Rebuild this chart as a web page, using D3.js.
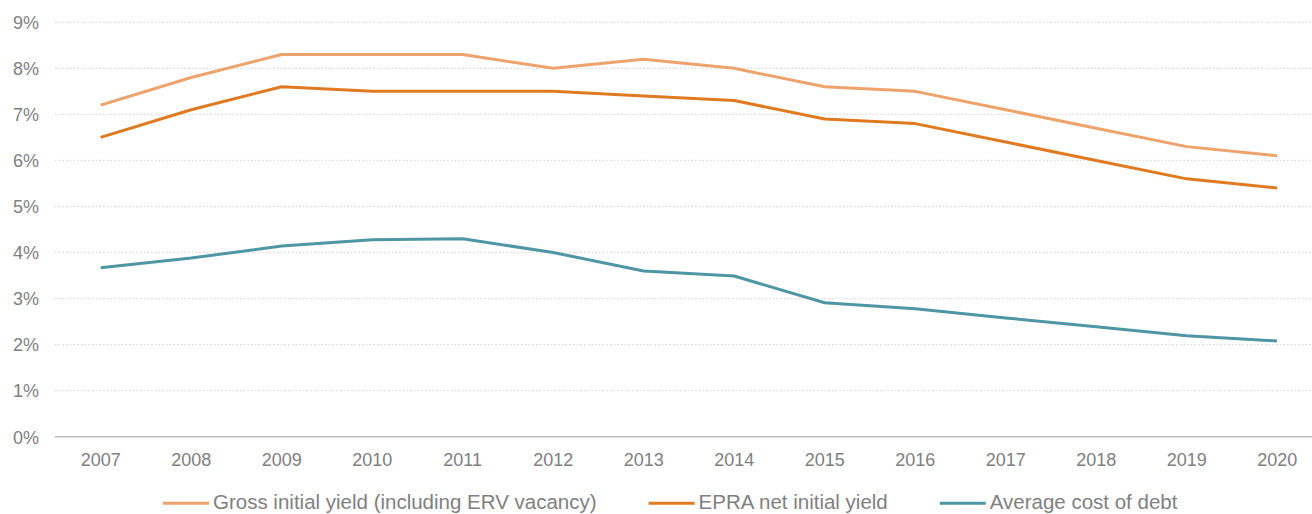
<!DOCTYPE html>
<html>
<head>
<meta charset="utf-8">
<script src="https://cdn.jsdelivr.net/npm/d3@7"></script>
<style>
  body { margin: 0; background: #fff; }
  svg { display: block; font-family: 'Liberation Sans', Arial, sans-serif; }
  .axis text { fill: #808080; font-size: 18px; }
</style>
</head>
<body>
<script>
// data
const years = ['2007', '2008', '2009', '2010', '2011', '2012', '2013', '2014', '2015', '2016', '2017', '2018', '2019', '2020']
const grossYield = [7.2, 7.8, 8.3, 8.3, 8.3, 8.0, 8.2, 8.0, 7.6, 7.5, 7.1, 6.7, 6.3, 6.1]
const epraYield = [6.5, 7.1, 7.6, 7.5, 7.5, 7.5, 7.4, 7.3, 6.9, 6.8, 6.4, 6.0, 5.6, 5.4]
const costOfDebt = [3.67, 3.88, 4.14, 4.28, 4.3, 4.0, 3.6, 3.49, 2.91, 2.78, 2.58, 2.39, 2.19, 2.08]
const yTicks = [0, 1, 2, 3, 4, 5, 6, 7, 8, 9]
const seriesNames = ['Gross initial yield (including ERV vacancy)', 'EPRA net initial yield', 'Average cost of debt']
const seriesColors = ['#EEA26C', '#E07A20', '#4E96A4']

const width = 1312
const height = 514
const svg = d3.select('body').append('svg').attr('width', width).attr('height', height)

// band of the 14 years runs past the right edge of the picture (it was cropped)
var x = d3.scaleBand().domain(years).range([55.4, 55.4 + 14 * 90.5])
var y = d3.scaleLinear().domain([0, 9]).range([436.7, 22.3])

// dotted grid
svg.append('g')
  .selectAll('line')
  .data(yTicks.filter(t => t > 0))
  .enter()
  .append('line')
  .attr('x1', 55).attr('x2', width)
  .attr('y1', d => y(d)).attr('y2', d => y(d))
  .attr('stroke', '#d9d9d9')
  .attr('stroke-width', 1.3)
  .attr('stroke-dasharray', '1.5,2.2')

// y axis labels
var axisY = d3.axisLeft(y).tickValues(yTicks).tickSize(0).tickPadding(0).tickFormat(d => d + '%')
var gy = svg.append('g').attr('class', 'axis').attr('transform', 'translate(39, 0)').call(axisY)
gy.select('.domain').remove()
gy.selectAll('.tick text').attr('dy', '0.35em')

// x axis
var axisX = d3.axisBottom(x).tickSize(0).tickPadding(0)
var gx = svg.append('g').attr('class', 'axis').attr('transform', `translate(0, ${y(0)})`).call(axisX)
gx.select('.domain').remove()
gx.selectAll('.tick text').attr('y', 29.5).attr('dy', 0)
svg.append('line')
  .attr('x1', 55).attr('x2', width)
  .attr('y1', y(0)).attr('y2', y(0))
  .attr('stroke', '#bfbfbf').attr('stroke-width', 1.6)

// lines
var line = d3.line().x((d, i) => x(years[i]) + x.bandwidth() / 2).y(d => y(d))
var allSeries = [grossYield, epraYield, costOfDebt]

svg.append('g')
  .selectAll('path')
  .data(allSeries)
  .enter()
  .append('path')
  .attr('d', d => line(d))
  .attr('fill', 'none')
  .attr('stroke', (d, i) => seriesColors[i])
  .attr('stroke-width', 3)
  .attr('stroke-linejoin', 'round')

// legend
var lg = svg.append('g').attr('transform', 'translate(0, 503.3)')
var lx = 163
seriesNames.forEach((name, i) => {
  lg.append('line')
    .attr('x1', lx).attr('x2', lx + 46)
    .attr('y1', 0).attr('y2', 0)
    .attr('stroke', seriesColors[i]).attr('stroke-width', 3)
  var t = lg.append('text')
    .attr('x', lx + 50).attr('y', 6)
    .attr('fill', '#808080')
    .attr('font-size', '20.5px')
    .text(name)
  lx += 50 + t.node().getComputedTextLength() + 52
})
</script>
</body>
</html>
